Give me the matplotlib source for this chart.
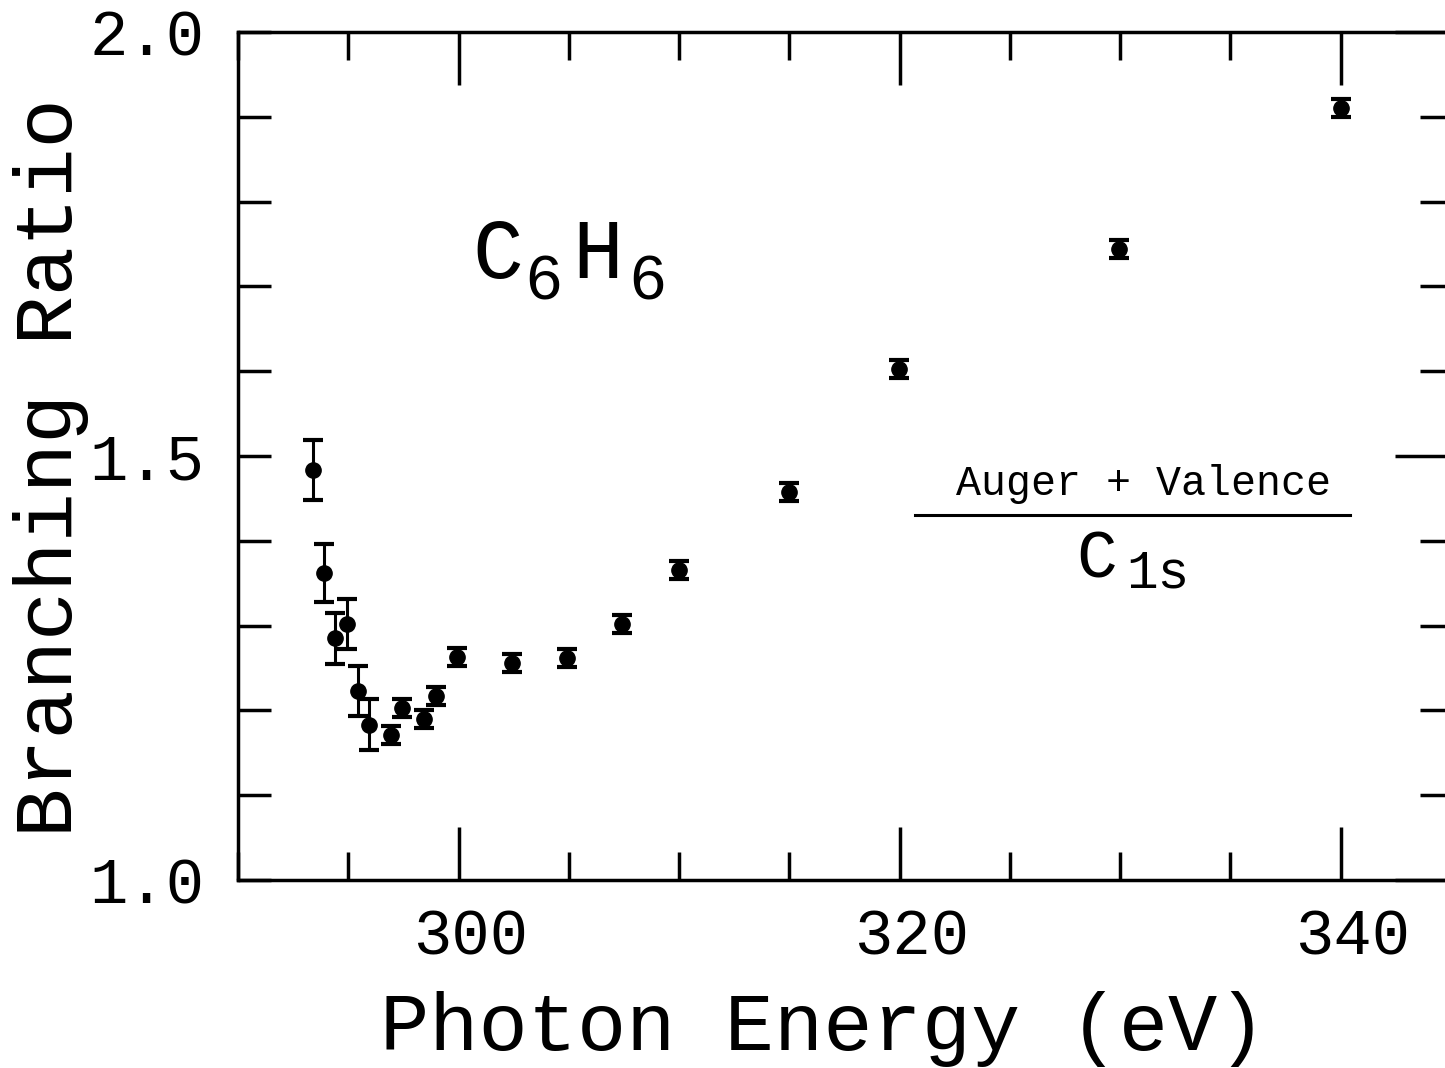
import numpy as np
import matplotlib
matplotlib.use("Agg")
import matplotlib.pyplot as plt
import matplotlib.transforms as mtransforms
from matplotlib.ticker import MultipleLocator, FixedLocator

# photon energy (eV), branching ratio, error
energy = [293.42, 293.92, 294.40, 294.93, 295.46, 295.96, 296.94, 297.43,
          298.43, 298.96, 299.92, 302.42, 304.92, 307.41, 309.99, 314.98,
          319.97, 329.96, 340.02]
ratio = [1.4835, 1.362, 1.285, 1.302, 1.223, 1.183, 1.171, 1.2025,
         1.190, 1.217, 1.2626, 1.2555, 1.2614, 1.302, 1.3656, 1.4575,
         1.6026, 1.744, 1.910]
ratio_err = [0.035, 0.034, 0.030, 0.0295, 0.0295, 0.030, 0.0105, 0.0105,
             0.0105, 0.0105, 0.0105, 0.0105, 0.0105, 0.0105, 0.0105, 0.0105,
             0.0105, 0.0105, 0.0105]

x_major = [300, 320, 340]
y_major = [1.0, 1.5, 2.0]

W, H = 1445, 1068
FONT = "Liberation Mono"
plt.rcParams['font.family'] = [FONT, 'DejaVu Sans Mono']

fig = plt.figure(figsize=(W / 100, H / 100), dpi=100)
# axes box in pixels: left 238, right 1451 (off the page), top 32, bottom 880
ax = fig.add_axes([238 / W, 1 - 880 / H, (1451 - 238) / W, (880 - 32) / H])

ax.errorbar(energy, ratio, yerr=ratio_err, fmt='o', color='black',
            ms=11, capsize=7, capthick=3, elinewidth=2.2)

ax.set_xlim(290, 345)
ax.set_ylim(1.0, 2.0)

ax.xaxis.set_major_locator(FixedLocator(x_major))
ax.xaxis.set_minor_locator(MultipleLocator(5))
ax.yaxis.set_major_locator(FixedLocator(y_major))
ax.yaxis.set_minor_locator(MultipleLocator(0.1))
ax.set_xticklabels([str(v) for v in x_major])
ax.set_yticklabels(["%.1f" % v for v in y_major])

for s in ax.spines.values():
    s.set_linewidth(2.5)

ax.tick_params(axis='x', which='both', direction='in', top=True, width=2.5,
               labelsize=46, pad=20)
ax.tick_params(axis='x', which='major', length=38)
ax.tick_params(axis='x', which='minor', length=20)
ax.tick_params(axis='y', which='both', direction='in', right=False, width=2.5,
               length=24, labelsize=46, pad=24)

# x tick labels sit a little right of their ticks in the original
shift = mtransforms.ScaledTranslation(0.12, 0, fig.dpi_scale_trans)
for lbl in ax.get_xticklabels():
    lbl.set_transform(lbl.get_transform() + shift)

# right-hand ticks are longer for the major ones
sec = ax.secondary_yaxis('right')
sec.yaxis.set_major_locator(FixedLocator(y_major))
sec.yaxis.set_minor_locator(MultipleLocator(0.1))
sec.tick_params(which='both', direction='in', width=2.5, labelright=False)
sec.tick_params(which='major', length=40)
sec.tick_params(which='minor', length=22)
sec.spines['right'].set_linewidth(2.5)

# axis titles
fig.text(823 / W, 1 - 1050 / H, "Photon Energy (eV)", fontsize=59,
         ha='center', va='baseline')
fig.text(72 / W, 1 - 468 / H, "Branching Ratio", fontsize=59,
         rotation=90, rotation_mode='anchor', ha='center', va='baseline')

# C6H6 label
fig.text(472 / W, 1 - 278 / H, "C", fontsize=61, va='baseline')
fig.text(524 / W, 1 - 300 / H, "6", fontsize=46, va='baseline')
fig.text(572 / W, 1 - 278 / H, "H", fontsize=61, va='baseline')
fig.text(628 / W, 1 - 300 / H, "6", fontsize=46, va='baseline')

# ratio legend
fig.text(1144 / W, 1 - 495 / H, "Auger + Valence", fontsize=30,
         ha='center', va='baseline')
ax.plot([(915 - 238) / 1213, (1350 - 238) / 1213], [365 / 848, 365 / 848],
        transform=ax.transAxes, color='black', lw=2.2, clip_on=False)
fig.text(1076 / W, 1 - 577 / H, "C", fontsize=49, va='baseline')
fig.text(1126 / W, 1 - 587 / H, "1s", fontsize=38, va='baseline')

fig.savefig("out.png", dpi=100)
